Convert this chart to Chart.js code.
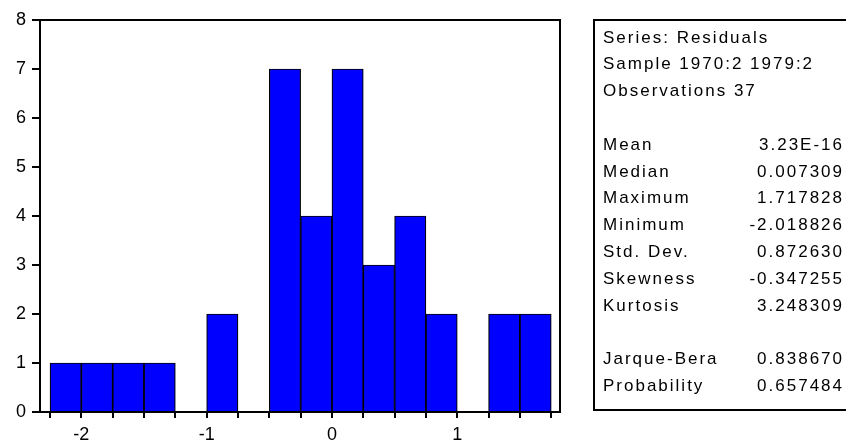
<!DOCTYPE html>
<html>
<head>
<meta charset="utf-8">
<script src="https://cdn.jsdelivr.net/npm/chart.js@4.4.1/dist/chart.umd.min.js"></script>
<style>
  html, body { margin: 0; padding: 0; background: #fff; }
</style>
</head>
<body>
<canvas id="histChart" width="846" height="445"></canvas>
<script>
// histogram: bin edges every 0.25 and the count in each bin
const binEdges = [-2.25, -2, -1.75, -1.5, -1.25, -1, -0.75, -0.5, -0.25, 0, 0.25, 0.5, 0.75, 1, 1.25, 1.5, 1.75];
const counts = [1, 1, 1, 1, 0, 2, 0, 7, 4, 7, 3, 4, 2, 0, 2, 2];
const xLabels = [-2, -1, 0, 1];
const yTicks = [0, 1, 2, 3, 4, 5, 6, 7, 8];

// stats panel
const headerLines = ["Series: Residuals", "Sample 1970:2 1979:2", "Observations 37"];
const statNames = ["Mean", "Median", "Maximum", "Minimum", "Std. Dev.", "Skewness", "Kurtosis"];
const statValues = ["3.23E-16", "0.007309", "1.717828", "-2.018826", "0.872630", "-0.347255", "3.248309"];
const testNames = ["Jarque-Bera", "Probability"];
const testValues = ["0.838670", "0.657484"];

const FONT = "'Liberation Sans', Arial, sans-serif";

const bars = counts.map((c, i) => ({ x: (binEdges[i] + binEdges[i + 1]) / 2, y: c }));

// frame round the plot area
const framePlugin = {
  id: 'frame',
  afterDatasetsDraw(chart) {
    const { ctx, chartArea: a } = chart;
    ctx.save();
    ctx.strokeStyle = '#000';
    ctx.lineWidth = 2;
    ctx.strokeRect(a.left, a.top, a.right - a.left, a.bottom - a.top);
    ctx.restore();
  }
};

// text box on the right
const statsPlugin = {
  id: 'stats',
  afterDraw(chart) {
    const ctx = chart.ctx;
    const left = 594, top = 20, bottom = 410;
    ctx.save();
    ctx.strokeStyle = '#000';
    ctx.lineWidth = 2;
    ctx.strokeRect(left, top, 300, bottom - top);
    ctx.fillStyle = '#000';
    ctx.font = "17px " + FONT;
    ctx.letterSpacing = '2px';
    ctx.textBaseline = 'middle';
    const lineH = 26.8, y0 = 38, tx = 603, vx = 844;
    const rows = [];
    headerLines.forEach(t => rows.push([t, null]));
    rows.push(null);
    statNames.forEach((t, i) => rows.push([t, statValues[i]]));
    rows.push(null);
    testNames.forEach((t, i) => rows.push([t, testValues[i]]));
    rows.forEach((r, i) => {
      if (!r) return;
      const y = y0 + i * lineH;
      ctx.textAlign = 'left';
      ctx.fillText(r[0], tx, y);
      if (r[1] !== null) {
        ctx.textAlign = 'right';
        ctx.fillText(r[1], vx, y);
      }
    });
    ctx.restore();
  }
};

new Chart(document.getElementById('histChart'), {
  type: 'bar',
  data: {
    datasets: [{
      data: bars,
      backgroundColor: '#0000ff',
      borderColor: '#000',
      borderWidth: 1.2,
      borderSkipped: 'start',
      barPercentage: 1,
      categoryPercentage: 1
    }]
  },
  options: {
    responsive: false,
    animation: false,
    layout: { padding: { top: 20, right: 286, left: 0, bottom: 0 } },
    plugins: { legend: { display: false }, tooltip: { enabled: false } },
    scales: {
      x: {
        type: 'linear',
        min: -2.33,
        max: 1.82,
        offset: false,
        afterBuildTicks: axis => { axis.ticks = binEdges.map(v => ({ value: v })); },
        afterFit: axis => { axis.height = 33; },
        grid: { drawOnChartArea: false, offset: false, color: '#000', lineWidth: 2, tickLength: 6 },
        border: { color: '#000', width: 2 },
        ticks: {
          autoSkip: false,
          maxRotation: 0,
          padding: 6,
          color: '#000',
          font: { size: 18, family: FONT },
          callback: v => xLabels.includes(v) ? String(v) : ''
        }
      },
      y: {
        min: 0,
        max: 8,
        afterBuildTicks: axis => { axis.ticks = yTicks.map(v => ({ value: v })); },
        afterFit: axis => { axis.width = 40; },
        grid: { drawOnChartArea: false, color: '#000', lineWidth: 2, tickLength: 8 },
        border: { color: '#000', width: 2 },
        ticks: {
          padding: 6,
          color: '#000',
          font: { size: 18, family: FONT }
        }
      }
    }
  },
  plugins: [framePlugin, statsPlugin]
});
</script>
</body>
</html>
